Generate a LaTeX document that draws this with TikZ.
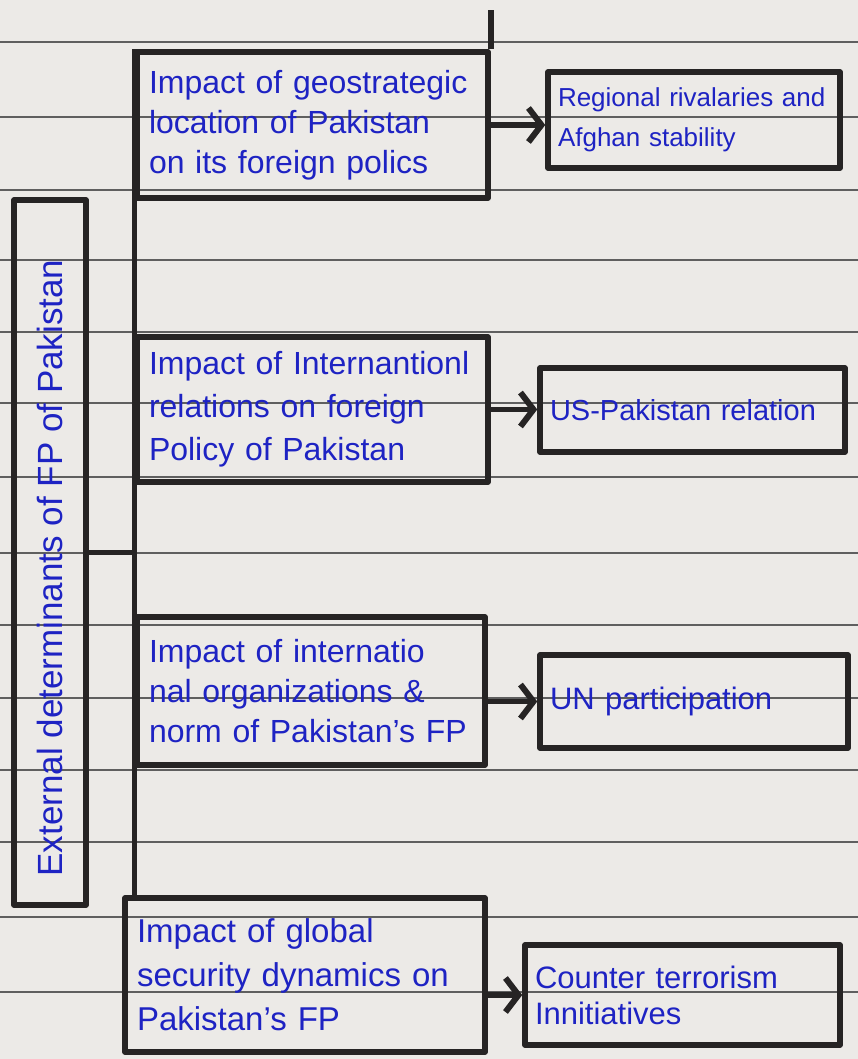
\documentclass[tikz,border=0pt]{standalone}
\usepackage{fontspec}
\setmainfont{Liberation Sans}
\usetikzlibrary{arrows.meta}
\definecolor{ink}{RGB}{30,35,195}
\definecolor{pen}{RGB}{38,36,36}
\definecolor{paper}{RGB}{236,234,231}
\definecolor{rule}{RGB}{95,95,95}
\tikzset{
  hbox/.style={draw=pen, line width=5.5pt, rectangle, inner xsep=12pt, inner ysep=0pt,
    align=left, text=ink, line join=round},
  ruling/.style={draw=rule, line width=1.4pt},
  link/.style={draw=pen, line width=5.5pt},
  arr/.style={draw=pen, line width=5.5pt, -{Straight Barb[length=13pt,width=34pt,line width=6pt]}}
}
\begin{document}
\begin{tikzpicture}[x=1pt,y=-1pt]
\useasboundingbox (0,0) rectangle (858,1059);
\fill[paper] (0,0) rectangle (858,1059);
% notebook ruling
\foreach \yy in {42,117,190,260,332,403,477,553,625,698,770,842,917,992}
  \draw[ruling] (0,\yy) -- (858,\yy);

% main box
\node[hbox, minimum width=72pt, minimum height=705pt, inner xsep=0pt] (main) at (50,552.5) {};
\node[text=ink, rotate=90, font=\fontsize{35}{40}\selectfont] (maintxt) at (50,568) {External determinants of FP of Pakistan};

% left column boxes
\node[hbox, minimum width=351pt, minimum height=146pt, text width=327pt,
  font=\fontsize{32}{40}\selectfont] (b1) at (312.5,125)
  {Impact of geostrategic\\location of Pakistan\\on its foreign polics};
\node[hbox, minimum width=351pt, minimum height=145pt, text width=327pt,
  font=\fontsize{32}{43}\selectfont] (b2) at (312.5,409.5)
  {Impact of Internantionl\\relations on foreign\\Policy of Pakistan};
\node[hbox, minimum width=348pt, minimum height=148pt, text width=324pt,
  font=\fontsize{32}{40}\selectfont] (b3) at (311,691)
  {Impact of internatio\\nal organizations \&\\norm of Pakistan's FP};
\node[hbox, minimum width=360pt, minimum height=154pt, text width=336pt,
  inner xsep=8pt, font=\fontsize{33}{44}\selectfont] (b4) at (305,975)
  {Impact of global\\security dynamics on\\Pakistan's FP};

% right column boxes
\node[hbox, minimum width=292pt, minimum height=96pt, text width=272pt, inner xsep=10pt,
  font=\fontsize{26}{40}\selectfont] (r1) at (694,120)
  {Regional rivalaries and\\Afghan stability};
\node[hbox, minimum width=305pt, minimum height=84pt, text width=285pt, inner xsep=10pt,
  font=\fontsize{29}{40}\selectfont] (r2) at (692.5,410)
  {US-Pakistan relation};
\node[hbox, minimum width=308pt, minimum height=93pt, text width=288pt, inner xsep=10pt,
  font=\fontsize{31}{40}\selectfont] (r3) at (694,701.5)
  {UN participation};
\node[hbox, minimum width=315pt, minimum height=100pt, text width=295pt, inner xsep=10pt,
  font=\fontsize{31}{36}\selectfont] (r4) at (682.5,995)
  {Counter terrorism\\Innitiatives};

% trunk and connectors
\coordinate (stub) at (0,10);
\draw[link] (b1.north east) -- (b1.north east |- stub);
\draw[link] (b1.north west) -- (b1.north west |- b4.north);
\draw[link] (main.east) -- (main.east -| b1.west);
\draw[arr] (b1.east) -- (b1.east -| r1.west);
\draw[arr] (b2.east) -- (b2.east -| r2.west);
\draw[arr] (b3.east |- r3.west) -- (r3.west);
\draw[arr] (b4.east |- r4.west) -- (r4.west);
\end{tikzpicture}
\end{document}
